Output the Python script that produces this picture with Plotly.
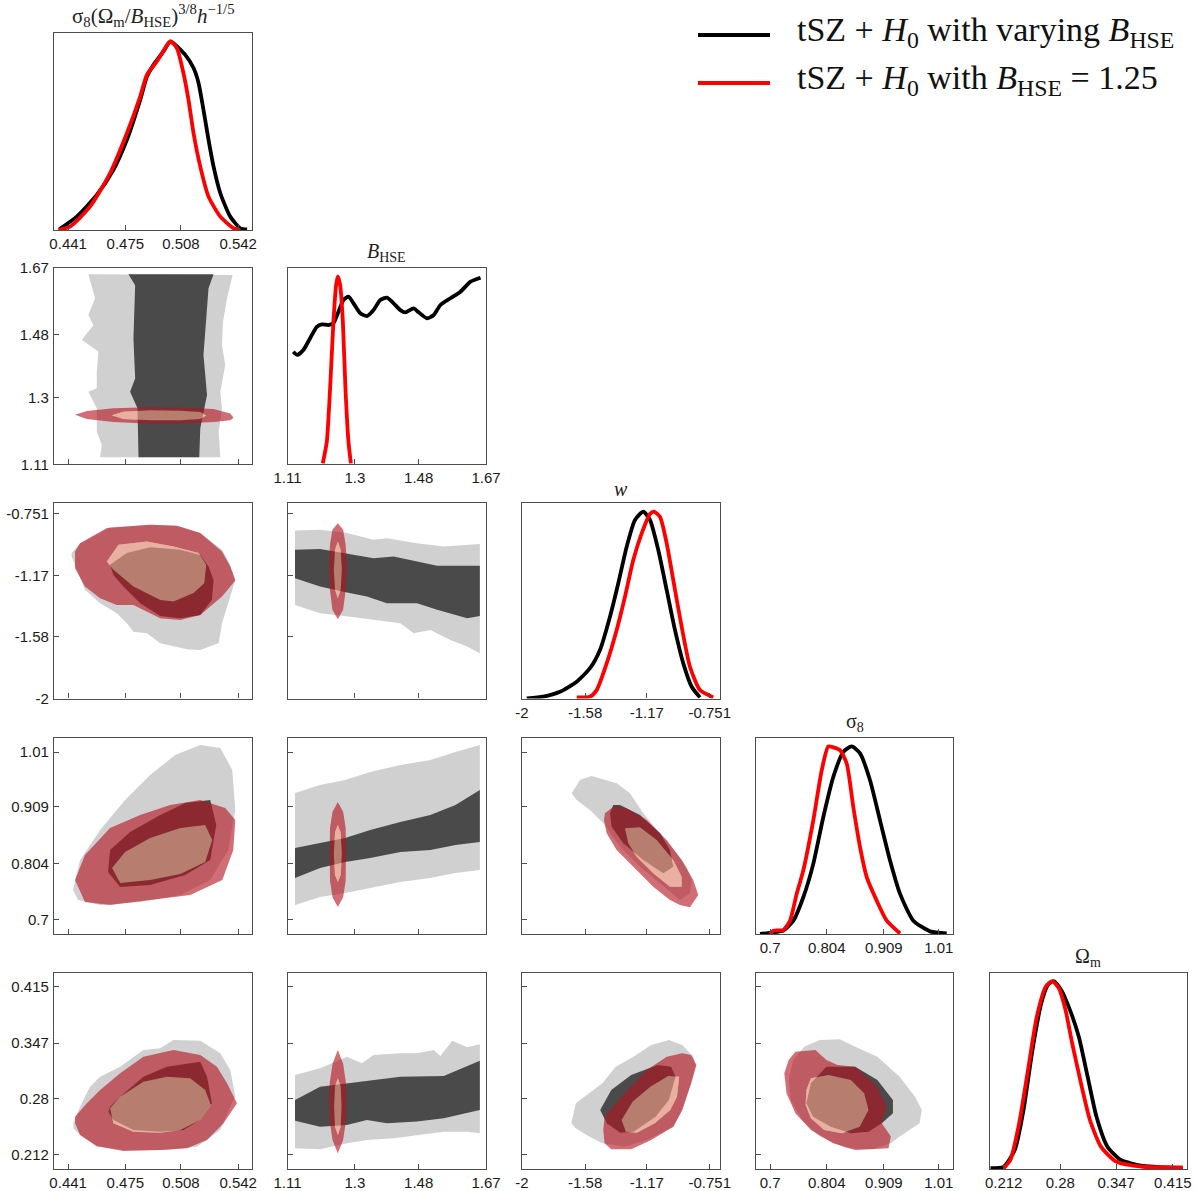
import plotly.graph_objects as go

# ---------------- axis ranges / ticks (data units) ----------------
PARAM_RANGE = [[0.4326, 0.5504], [1.11, 1.67], [-2.0, -0.683], [0.674, 1.036], [0.195, 0.432]]
TICK_VALS = [[0.441, 0.475, 0.508, 0.542], [1.11, 1.3, 1.48, 1.67],
             [-2, -1.58, -1.17, -0.751], [0.7, 0.804, 0.909, 1.01], [0.212, 0.28, 0.347, 0.415]]
TICK_TEXT = [["0.441", "0.475", "0.508", "0.542"], ["1.11", "1.3", "1.48", "1.67"],
             ["-2", "-1.58", "-1.17", "-0.751"], ["0.7", "0.804", "0.909", "1.01"],
             ["0.212", "0.28", "0.347", "0.415"]]
PARAM_LABELS = [
    "σ<sub>8</sub>(Ω<sub>m</sub>/<i>B</i><sub>HSE</sub>)<sup>3/8</sup><i>h</i><sup>−1/5</sup>",
    "<i>B</i><sub>HSE</sub>",
    "<i>w</i>",
    "σ<sub>8</sub>",
    "Ω<sub>m</sub>",
]
SERIES_NAMES = ["tSZ + <i>H</i><sub>0</sub> with varying <i>B</i><sub>HSE</sub>",
                "tSZ + <i>H</i><sub>0</sub> with <i>B</i><sub>HSE</sub> = 1.25"]

# ---------------- 1D marginals (normalised to peak = 1) ----------------
D0_X_BLACK = [0.4358, 0.4461, 0.4580, 0.4679, 0.4759, 0.4838, 0.4878, 0.4917, 0.4976, 0.5016, 0.5036,
              0.5106, 0.5155, 0.5185, 0.5214, 0.5244, 0.5274, 0.5314, 0.5373, 0.5433, 0.5473]
D0_Y_BLACK = [0.004, 0.071, 0.186, 0.319, 0.478, 0.690, 0.814, 0.876, 0.947, 1.0, 0.991,
              0.929, 0.859, 0.779, 0.637, 0.478, 0.336, 0.195, 0.071, 0.009, 0.003]
D0_X_RED = [0.4352, 0.4421, 0.4540, 0.4659, 0.4759, 0.4838, 0.4878, 0.4937, 0.5006, 0.5020, 0.5056,
            0.5095, 0.5125, 0.5155, 0.5195, 0.5244, 0.5314, 0.5393, 0.5433]
D0_Y_RED = [0.0, 0.018, 0.124, 0.301, 0.513, 0.708, 0.823, 0.894, 0.991, 1.0, 0.965,
            0.832, 0.690, 0.513, 0.336, 0.177, 0.071, 0.009, 0.0]

D1_X_BLACK = [1.1264, 1.1377, 1.1547, 1.1737, 1.1926, 1.2067, 1.2254, 1.2396, 1.2537, 1.2679, 1.2820,
              1.2962, 1.3151, 1.3341, 1.3528, 1.3717, 1.3906, 1.4093, 1.4283, 1.4424, 1.4659, 1.4800,
              1.5038, 1.5225, 1.5414, 1.5697, 1.5980, 1.6263, 1.6546]
D1_Y_BLACK = [0.599, 0.582, 0.608, 0.671, 0.732, 0.745, 0.741, 0.751, 0.812, 0.875, 0.892,
              0.857, 0.804, 0.789, 0.821, 0.875, 0.887, 0.857, 0.821, 0.809, 0.830, 0.809,
              0.777, 0.795, 0.848, 0.884, 0.919, 0.972, 0.993]
D1_X_RED = [1.2096, 1.2209, 1.2302, 1.2396, 1.2472, 1.2520, 1.2585, 1.2662, 1.2735, 1.2820, 1.2888]
D1_Y_RED = [0.005, 0.12, 0.405, 0.759, 0.954, 1.0, 0.954, 0.759, 0.405, 0.12, 0.005]

D2_X_BLACK = [-1.9687, -1.8584, -1.7473, -1.6362, -1.5478, -1.4813, -1.4148, -1.3596, -1.3037,
              -1.2486, -1.1933, -1.1488, -1.0936, -1.0378, -0.9826, -0.9273, -0.8715, -0.8163]
D2_Y_BLACK = [0.001, 0.010, 0.036, 0.090, 0.162, 0.260, 0.438, 0.617, 0.813,
              0.956, 1.0, 0.956, 0.795, 0.581, 0.367, 0.188, 0.063, 0.006]
D2_X_RED = [-1.6362, -1.5478, -1.5033, -1.4368, -1.3703, -1.3151, -1.2599, -1.2040, -1.1488,
            -1.1222, -1.0823, -1.0378, -0.9939, -0.9380, -0.8828, -0.8163, -0.7279]
D2_Y_RED = [0.006, 0.010, 0.045, 0.188, 0.367, 0.545, 0.741, 0.884, 0.988,
            1.0, 0.973, 0.831, 0.634, 0.384, 0.170, 0.045, 0.006]

D3_X_BLACK = [0.6814, 0.7058, 0.7242, 0.7426, 0.7609, 0.7793, 0.7977, 0.8161, 0.8345, 0.8499,
              0.8652, 0.8835, 0.9019, 0.9203, 0.9387, 0.9631, 0.9938, 1.0245]
D3_Y_BLACK = [0.0, 0.009, 0.018, 0.071, 0.196, 0.374, 0.624, 0.838, 0.971, 1.0,
              0.963, 0.820, 0.606, 0.392, 0.214, 0.071, 0.014, 0.003]
D3_X_RED = [0.6997, 0.7058, 0.7242, 0.7365, 0.7488, 0.7609, 0.7793, 0.7948, 0.8069, 0.8161,
            0.8284, 0.8407, 0.8528, 0.8652, 0.8775, 0.8958, 0.9142, 0.9387]
D3_Y_RED = [0.0, 0.018, 0.021, 0.071, 0.214, 0.339, 0.606, 0.873, 1.0, 0.995,
            0.980, 0.909, 0.677, 0.463, 0.303, 0.178, 0.071, 0.003]

D4_X_BLACK = [0.1962, 0.2121, 0.2253, 0.2358, 0.2465, 0.2571, 0.2651, 0.2719, 0.2810, 0.2915,
              0.3021, 0.3127, 0.3234, 0.3365, 0.3525, 0.3790, 0.4055, 0.4268]
D4_Y_BLACK = [0.004, 0.012, 0.101, 0.314, 0.633, 0.882, 0.980, 1.0, 0.953, 0.847,
              0.705, 0.493, 0.278, 0.119, 0.048, 0.016, 0.009, 0.004]
D4_X_RED = [0.2121, 0.2200, 0.2306, 0.2412, 0.2518, 0.2625, 0.2703, 0.2783, 0.2862, 0.2942,
            0.3048, 0.3155, 0.3287, 0.3472, 0.3790, 0.4268]
D4_Y_RED = [0.004, 0.048, 0.243, 0.527, 0.811, 0.970, 1.0, 0.962, 0.847, 0.669,
            0.456, 0.261, 0.119, 0.039, 0.012, 0.009]

# ---------------- 2D credible-region outlines (x, y) in data units ----------------
# panel (row 1, col 0): x = combo, y = B_HSE
G10_LIGHT = [(0.4530, 1.652), (0.4570, 1.584), (0.4530, 1.536), (0.4560, 1.507), (0.4491, 1.465), (0.4590, 1.431),
             (0.4580, 1.374), (0.4580, 1.327), (0.4530, 1.317), (0.4580, 1.270), (0.4580, 1.203), (0.4610, 1.165),
             (0.4600, 1.130), (0.5314, 1.130), (0.5304, 1.203), (0.5324, 1.270), (0.5314, 1.317), (0.5343, 1.393),
             (0.5324, 1.450), (0.5330, 1.517), (0.5354, 1.584), (0.5387, 1.650)]
G10_DARK = [(0.4768, 1.652), (0.4808, 1.621), (0.4798, 1.469), (0.4808, 1.355), (0.4778, 1.317), (0.4822, 1.270),
            (0.4828, 1.130), (0.5189, 1.130), (0.5195, 1.213), (0.5235, 1.308), (0.5214, 1.422), (0.5244, 1.612),
            (0.5274, 1.652)]
R10_OUTER = [(0.4451, 1.251), (0.4521, 1.262), (0.4679, 1.270), (0.4897, 1.273), (0.5116, 1.271), (0.5274, 1.268),
             (0.5373, 1.255), (0.5393, 1.243), (0.5373, 1.236), (0.5274, 1.231), (0.5116, 1.227), (0.4897, 1.226),
             (0.4679, 1.231), (0.4521, 1.239)]
R10_INNER = [(0.4669, 1.250), (0.4738, 1.260), (0.4897, 1.264), (0.5076, 1.263), (0.5195, 1.259), (0.5230, 1.249),
             (0.5195, 1.239), (0.5076, 1.236), (0.4897, 1.236), (0.4738, 1.239)]

# panel (2,0): x = combo, y = w
G20_LIGHT = [(0.4431, -1.019), (0.4481, -0.952), (0.4600, -0.884), (0.4659, -0.844), (0.4897, -0.828),
             (0.5056, -0.835), (0.5195, -0.884), (0.5324, -0.997), (0.5373, -1.098), (0.5403, -1.200),
             (0.5383, -1.289), (0.5354, -1.380), (0.5324, -1.492), (0.5304, -1.627), (0.5274, -1.639),
             (0.5195, -1.672), (0.5116, -1.668), (0.4957, -1.627), (0.4878, -1.560), (0.4798, -1.549),
             (0.4759, -1.492), (0.4699, -1.425), (0.4600, -1.357), (0.4510, -1.267), (0.4471, -1.154),
             (0.4431, -1.042)]
G20_DARK = [(0.4659, -1.098), (0.4759, -1.019), (0.4897, -0.979), (0.5076, -0.997), (0.5195, -1.031),
            (0.5244, -1.110), (0.5274, -1.200), (0.5264, -1.335), (0.5195, -1.436), (0.5076, -1.458),
            (0.4957, -1.443), (0.4838, -1.357), (0.4738, -1.245), (0.4679, -1.166)]
R20_OUTER = [(0.4451, -1.009), (0.4481, -0.952), (0.4640, -0.850), (0.4897, -0.828), (0.5056, -0.835),
             (0.5195, -0.884), (0.5324, -1.009), (0.5373, -1.110), (0.5403, -1.204), (0.5324, -1.312),
             (0.5195, -1.436), (0.5076, -1.470), (0.4957, -1.458), (0.4798, -1.369), (0.4699, -1.369),
             (0.4600, -1.323), (0.4510, -1.245), (0.4451, -1.121)]
R20_INNER = [(0.4640, -1.076), (0.4709, -0.963), (0.4878, -0.941), (0.5036, -0.975), (0.5185, -1.019),
             (0.5230, -1.098), (0.5219, -1.222), (0.5155, -1.289), (0.5036, -1.346), (0.4957, -1.335),
             (0.4798, -1.245), (0.4679, -1.132)]

# panel (2,1): x = B_HSE, y = w
G21_LIGHT = [(1.1312, -0.867), (1.2019, -0.862), (1.2775, -0.884), (1.3527, -0.929), (1.3906, -0.918),
             (1.4755, -0.952), (1.5508, -0.975), (1.6526, -0.957), (1.6526, -1.695), (1.6170, -1.650),
             (1.5697, -1.605), (1.5131, -1.537), (1.4659, -1.560), (1.4283, -1.492), (1.3623, -1.470),
             (1.2868, -1.448), (1.2019, -1.425), (1.1312, -1.369)]
G21_DARK = [(1.1312, -0.997), (1.2019, -0.992), (1.2679, -1.019), (1.3527, -1.053), (1.4093, -1.042),
            (1.4755, -1.076), (1.5321, -1.105), (1.6526, -1.105), (1.6526, -1.443), (1.6170, -1.458),
            (1.5321, -1.402), (1.4755, -1.357), (1.3906, -1.357), (1.3341, -1.312), (1.2679, -1.279),
            (1.2019, -1.245), (1.1312, -1.188)]
R21_OUTER = [(1.2520, -0.817), (1.2670, -0.862), (1.2741, -0.963), (1.2775, -1.098), (1.2741, -1.267),
             (1.2670, -1.402), (1.2520, -1.465), (1.2367, -1.402), (1.2297, -1.267), (1.2274, -1.098),
             (1.2297, -0.963), (1.2367, -0.862)]
R21_INNER = [(1.2520, -0.941), (1.2599, -0.997), (1.2633, -1.132), (1.2599, -1.267), (1.2520, -1.323),
             (1.2441, -1.267), (1.2407, -1.132), (1.2441, -0.997)]

# panel (3,0): x = combo, y = sigma8
G30_LIGHT = [(0.4439, 0.7553), (0.4481, 0.8107), (0.4600, 0.8661), (0.4748, 0.9215), (0.4897, 0.9677),
             (0.5046, 1.0046), (0.5195, 1.0231), (0.5314, 1.0175), (0.5385, 0.9769), (0.5403, 0.9030),
             (0.5361, 0.8291), (0.5254, 0.7737), (0.5076, 0.7460), (0.4838, 0.7331), (0.4600, 0.7276),
             (0.4469, 0.7368)]
G30_DARK = [(0.4659, 0.8291), (0.4778, 0.8624), (0.4957, 0.8938), (0.5106, 0.9159), (0.5254, 0.9215),
            (0.5290, 0.8753), (0.5254, 0.8107), (0.5106, 0.7830), (0.4897, 0.7645), (0.4719, 0.7608),
            (0.4647, 0.7885)]
R30_OUTER = [(0.4451, 0.7737), (0.4510, 0.8199), (0.4659, 0.8698), (0.4838, 0.8938), (0.5016, 0.9123),
             (0.5195, 0.9215), (0.5343, 0.9067), (0.5403, 0.8845), (0.5391, 0.8291), (0.5326, 0.7737),
             (0.5135, 0.7460), (0.4897, 0.7368), (0.4659, 0.7276), (0.4510, 0.7331)]
R30_INNER = [(0.4671, 0.7959), (0.4748, 0.8254), (0.4897, 0.8513), (0.5076, 0.8698), (0.5224, 0.8753),
             (0.5266, 0.8476), (0.5224, 0.8070), (0.5076, 0.7848), (0.4897, 0.7737), (0.4719, 0.7682)]

# panel (3,1): x = B_HSE, y = sigma8
G31_LIGHT = [(1.1312, 0.9344), (1.2019, 0.9492), (1.2727, 0.9584), (1.3434, 0.9732), (1.4283, 0.9861),
             (1.5131, 0.9954), (1.5839, 1.0101), (1.6526, 1.0231), (1.6526, 0.7922), (1.5839, 0.7867),
             (1.5131, 0.7774), (1.4283, 0.7700), (1.3434, 0.7589), (1.2727, 0.7497), (1.2019, 0.7423),
             (1.1312, 0.7276)]
G31_DARK = [(1.1312, 0.8328), (1.2019, 0.8421), (1.2727, 0.8513), (1.3434, 0.8661), (1.4283, 0.8809),
            (1.5131, 0.8938), (1.5839, 0.9123), (1.6526, 0.9400), (1.6526, 0.8439), (1.5839, 0.8384),
            (1.5131, 0.8291), (1.4283, 0.8254), (1.3434, 0.8144), (1.2727, 0.8070), (1.2019, 0.7959),
            (1.1312, 0.7774)]
R31_OUTER = [(1.2520, 0.9178), (1.2670, 0.900), (1.2741, 0.870), (1.2750, 0.8208), (1.2741, 0.772),
             (1.2670, 0.742), (1.2520, 0.7239), (1.2370, 0.742), (1.2299, 0.772), (1.2290, 0.8208),
             (1.2299, 0.870), (1.2370, 0.900)]
R31_INNER = [(1.2520, 0.8753), (1.2600, 0.862), (1.2633, 0.8227), (1.2600, 0.783), (1.2520, 0.7700),
             (1.2440, 0.783), (1.2407, 0.8227), (1.2440, 0.862)]

# panel (3,2): x = w, y = sigma8
G32_LIGHT = [(-1.6695, 0.9339), (-1.6143, 0.9584), (-1.5365, 0.9658), (-1.3702, 0.9523), (-1.2818, 0.9339),
             (-1.1934, 0.8969), (-1.0823, 0.8600), (-0.9712, 0.8230), (-0.9047, 0.7983), (-0.8715, 0.7737),
             (-0.8828, 0.7492), (-0.9493, 0.7368), (-1.0823, 0.7676), (-1.2153, 0.7983), (-1.3483, 0.8352),
             (-1.4594, 0.8784), (-1.5478, 0.9030), (-1.6362, 0.9215)]
G32_DARK = [(-1.3929, 0.9123), (-1.3483, 0.9123), (-1.2153, 0.8938), (-1.0823, 0.8600), (-1.0158, 0.8291),
            (-0.9939, 0.7983), (-1.0603, 0.7861), (-1.1934, 0.8107), (-1.3264, 0.8415), (-1.4035, 0.8722),
            (-1.4148, 0.8969)]
R32_OUTER = [(-1.4481, 0.8969), (-1.3929, 0.9091), (-1.3037, 0.9062), (-1.1707, 0.8845), (-1.0378, 0.8476),
             (-0.9380, 0.8107), (-0.8609, 0.7737), (-0.8276, 0.7460), (-0.8828, 0.7233), (-0.9493, 0.7276),
             (-1.0158, 0.7368), (-1.1269, 0.7614), (-1.2599, 0.7983), (-1.3702, 0.8291), (-1.4368, 0.8600),
             (-1.4547, 0.8845)]
R32_INNER = [(-1.3151, 0.8692), (-1.2153, 0.8711), (-1.1043, 0.8476), (-0.9939, 0.8107), (-0.9380, 0.7798),
             (-0.9380, 0.7614), (-1.0158, 0.7614), (-1.1269, 0.7861), (-1.2372, 0.8168), (-1.2931, 0.8415)]

# panel (4,0): x = combo, y = Omega_m
G40_LIGHT = [(0.4441, 0.2502), (0.4481, 0.2703), (0.4540, 0.2944), (0.4600, 0.3065), (0.4719, 0.3185),
             (0.4857, 0.3387), (0.4957, 0.3408), (0.5036, 0.3508), (0.5195, 0.3499), (0.5314, 0.3347),
             (0.5373, 0.3146), (0.5403, 0.2823), (0.5373, 0.2703), (0.5314, 0.2421), (0.5175, 0.2220),
             (0.4997, 0.2180), (0.4738, 0.2180), (0.4580, 0.2220), (0.4481, 0.2361), (0.4441, 0.2442)]
G40_DARK = [(0.4659, 0.2703), (0.4719, 0.2823), (0.4857, 0.3065), (0.4997, 0.3185), (0.5195, 0.3246),
            (0.5235, 0.3065), (0.5264, 0.2744), (0.5195, 0.2542), (0.5095, 0.2421), (0.4957, 0.2401),
            (0.4798, 0.2421), (0.4679, 0.2542), (0.4649, 0.2642)]
R40_OUTER = [(0.4451, 0.2582), (0.4521, 0.2744), (0.4600, 0.2904), (0.4719, 0.3106), (0.4857, 0.3306),
             (0.5036, 0.3387), (0.5195, 0.3327), (0.5294, 0.3185), (0.5354, 0.2985), (0.5413, 0.2744),
             (0.5333, 0.2502), (0.5235, 0.2301), (0.5116, 0.2200), (0.4957, 0.2180), (0.4738, 0.2168),
             (0.4580, 0.2228), (0.4481, 0.2361), (0.4451, 0.2502)]
R40_INNER = [(0.4659, 0.2683), (0.4719, 0.2823), (0.4857, 0.3004), (0.4997, 0.3065), (0.5135, 0.3045),
             (0.5224, 0.2904), (0.5258, 0.2723), (0.5195, 0.2542), (0.5076, 0.2421), (0.4957, 0.2389),
             (0.4798, 0.2401), (0.4679, 0.2502)]

# panel (4,1): x = B_HSE, y = Omega_m
G41_LIGHT = [(1.1312, 0.3085), (1.2019, 0.3166), (1.2775, 0.3306), (1.3199, 0.3226), (1.3527, 0.3327),
             (1.4283, 0.3347), (1.4755, 0.3347), (1.5225, 0.3387), (1.5414, 0.3315), (1.5745, 0.3499),
             (1.6170, 0.3420), (1.6526, 0.3456), (1.6526, 0.2382), (1.6170, 0.2401), (1.5508, 0.2401),
             (1.4755, 0.2361), (1.4093, 0.2321), (1.3341, 0.2301), (1.2775, 0.2261), (1.2019, 0.2188),
             (1.1312, 0.2200)]
G41_DARK = [(1.1312, 0.2783), (1.2019, 0.2944), (1.2775, 0.2985), (1.3527, 0.3025), (1.4283, 0.3065),
            (1.5508, 0.3073), (1.6526, 0.3258), (1.6526, 0.2663), (1.6170, 0.2623), (1.5508, 0.2563),
            (1.4755, 0.2522), (1.3906, 0.2502), (1.3341, 0.2542), (1.2775, 0.2482), (1.2019, 0.2461),
            (1.1312, 0.2534)]
R41_OUTER = [(1.2520, 0.3387), (1.2670, 0.322), (1.2745, 0.300), (1.2766, 0.2763), (1.2745, 0.252),
             (1.2670, 0.230), (1.2520, 0.2140), (1.2370, 0.230), (1.2295, 0.252), (1.2274, 0.2763),
             (1.2295, 0.300), (1.2370, 0.322)]
R41_INNER = [(1.2520, 0.3045), (1.2600, 0.295), (1.2625, 0.2703), (1.2600, 0.246), (1.2520, 0.2361),
             (1.2440, 0.246), (1.2415, 0.2703), (1.2440, 0.295)]

# panel (4,2): x = w, y = Omega_m
G42_LIGHT = [(-1.6715, 0.2502), (-1.6422, 0.2744), (-1.4653, 0.2985), (-1.3769, 0.3185), (-1.2585, 0.3306),
             (-1.1408, 0.3447), (-1.0225, 0.3508), (-0.9340, 0.3447), (-0.8602, 0.3306), (-0.8456, 0.3206),
             (-0.8748, 0.2985), (-0.9340, 0.2663), (-0.9932, 0.2461), (-1.1701, 0.2301), (-1.3177, 0.2220),
             (-1.4653, 0.2261), (-1.5538, 0.2341), (-1.6422, 0.2442)]
G42_DARK = [(-1.4800, 0.2663), (-1.4062, 0.2904), (-1.2738, 0.3085), (-1.0969, 0.3206), (-1.0085, 0.3185),
            (-0.9786, 0.3065), (-1.0231, 0.2783), (-1.1116, 0.2582), (-1.2585, 0.2401), (-1.3470, 0.2389),
            (-1.4354, 0.2502)]
R42_OUTER = [(-1.4507, 0.2582), (-1.3177, 0.2864), (-1.1701, 0.3146), (-1.0371, 0.3306), (-0.9340, 0.3347),
             (-0.8748, 0.3327), (-0.8396, 0.3206), (-0.8748, 0.2985), (-0.9340, 0.2663), (-0.9932, 0.2461),
             (-1.1408, 0.2301), (-1.2738, 0.2188), (-1.4062, 0.2188), (-1.4507, 0.2261), (-1.4594, 0.2421)]
R42_INNER = [(-1.3376, 0.2542), (-1.2645, 0.2763), (-1.1461, 0.2944), (-1.0284, 0.3073), (-0.9546, 0.3065),
             (-0.9693, 0.2823), (-1.0138, 0.2663), (-1.1169, 0.2502), (-1.2353, 0.2389), (-1.3091, 0.2401)]

# panel (4,3): x = sigma8, y = Omega_m
G43_LIGHT = [(0.7626, 0.3427), (0.7911, 0.3508), (0.8278, 0.3516), (0.8563, 0.3427), (0.8971, 0.3306),
             (0.9379, 0.3065), (0.9664, 0.2823), (0.9786, 0.2663), (0.9745, 0.2502), (0.9379, 0.2341),
             (0.9218, 0.2261), (0.8890, 0.2188), (0.8402, 0.2200), (0.7911, 0.2341), (0.7585, 0.2542),
             (0.7381, 0.2783), (0.7341, 0.3025), (0.7422, 0.3266)]
G43_DARK = [(0.8034, 0.3185), (0.8563, 0.3185), (0.8971, 0.3025), (0.9256, 0.2783), (0.9256, 0.2623),
            (0.9052, 0.2502), (0.8808, 0.2401), (0.8482, 0.2382), (0.8115, 0.2461), (0.7790, 0.2582),
            (0.7666, 0.2744), (0.7749, 0.2985)]
R43_OUTER = [(0.7341, 0.3266), (0.7464, 0.3366), (0.7830, 0.3387), (0.8034, 0.3266), (0.8238, 0.3206),
             (0.8563, 0.3185), (0.8971, 0.2944), (0.9135, 0.2703), (0.9052, 0.2502), (0.9218, 0.2341),
             (0.9175, 0.2200), (0.8563, 0.2180), (0.8157, 0.2261), (0.7749, 0.2421), (0.7464, 0.2623),
             (0.7301, 0.2864), (0.7260, 0.3106)]
R43_INNER = [(0.7666, 0.2904), (0.7749, 0.3045), (0.8074, 0.3085), (0.8482, 0.3025), (0.8727, 0.2864),
             (0.8808, 0.2663), (0.8646, 0.2461), (0.8321, 0.2382), (0.7993, 0.2421), (0.7749, 0.2563),
             (0.7652, 0.2723)]

# ---------------- assemble lookup tables from the arrays above ----------------
DIAG = {
    0: (D0_X_BLACK, D0_Y_BLACK, D0_X_RED, D0_Y_RED),
    1: (D1_X_BLACK, D1_Y_BLACK, D1_X_RED, D1_Y_RED),
    2: (D2_X_BLACK, D2_Y_BLACK, D2_X_RED, D2_Y_RED),
    3: (D3_X_BLACK, D3_Y_BLACK, D3_X_RED, D3_Y_RED),
    4: (D4_X_BLACK, D4_Y_BLACK, D4_X_RED, D4_Y_RED),
}
CONTOURS = {
    (1, 0): (G10_LIGHT, G10_DARK, R10_OUTER, R10_INNER),
    (2, 0): (G20_LIGHT, G20_DARK, R20_OUTER, R20_INNER),
    (2, 1): (G21_LIGHT, G21_DARK, R21_OUTER, R21_INNER),
    (3, 0): (G30_LIGHT, G30_DARK, R30_OUTER, R30_INNER),
    (3, 1): (G31_LIGHT, G31_DARK, R31_OUTER, R31_INNER),
    (3, 2): (G32_LIGHT, G32_DARK, R32_OUTER, R32_INNER),
    (4, 0): (G40_LIGHT, G40_DARK, R40_OUTER, R40_INNER),
    (4, 1): (G41_LIGHT, G41_DARK, R41_OUTER, R41_INNER),
    (4, 2): (G42_LIGHT, G42_DARK, R42_OUTER, R42_INNER),
    (4, 3): (G43_LIGHT, G43_DARK, R43_OUTER, R43_INNER),
}

# ---------------- styling / layout ----------------
W, H = 1196, 1191
COL_PX = [(54, 252.3), (287.5, 486), (522, 720), (756, 953), (989.5, 1187)]
ROW_PX = [(33, 230), (268, 464.3), (503.3, 698.5), (738, 934), (972.7, 1169)]
GREY_LIGHT = "#d0d0d0"
GREY_DARK = "#4a4a4a"
RED_OUTER = "rgba(181,19,32,0.62)"
RED_INNER = "rgba(247,156,131,0.63)"
FRAME = "#4d4d4d"
TICKFONT = dict(family="Liberation Sans, Arial, sans-serif", size=15, color="#1a1a1a")
SERIF = "Liberation Serif, DejaVu Serif, serif"
DIAG_YMAX = 1.045
TITLE_SIZES = [21, 20, 20, 20, 20]


def signed_area(pts):
    a = 0.0
    for k in range(len(pts)):
        x1, y1 = pts[k]
        x2, y2 = pts[(k + 1) % len(pts)]
        a += x1 * y2 - x2 * y1
    return a / 2.0


def ring_xy(pts, ccw=True):
    p = list(pts)
    if (signed_area(p) > 0) != ccw:
        p = p[::-1]
    p = p + [p[0]]
    return [q[0] for q in p], [q[1] for q in p]


def fill_trace(outer, color, xr, yr, hole=None):
    xs, ys = ring_xy(outer, True)
    if hole is not None:
        hx, hy = ring_xy(hole, False)
        xs = xs + [None] + hx
        ys = ys + [None] + hy
    return go.Scatter(x=xs, y=ys, mode="lines", fill="toself", fillcolor=color,
                      line=dict(width=0, color=color), hoverinfo="skip", showlegend=False,
                      xaxis=xr, yaxis=yr)


fig = go.Figure()
layout = dict(width=W, height=H, margin=dict(l=0, r=0, t=0, b=0, pad=0), autosize=False,
              paper_bgcolor="white", plot_bgcolor="white", showlegend=False)
annotations = []
shapes = []

k = 0
for i in range(5):
    for j in range(i + 1):
        k += 1
        xname = "xaxis" if k == 1 else f"xaxis{k}"
        yname = "yaxis" if k == 1 else f"yaxis{k}"
        xr = "x" if k == 1 else f"x{k}"
        yr = "y" if k == 1 else f"y{k}"
        x0, x1 = COL_PX[j]
        y0, y1 = ROW_PX[i]
        xdom = [x0 / W, x1 / W]
        ydom = [1 - y1 / H, 1 - y0 / H]
        common = dict(showgrid=False, zeroline=False, showline=True, linecolor=FRAME, linewidth=1.3,
                      mirror=True, ticks="inside", ticklen=5, tickwidth=1.1, tickcolor=FRAME,
                      tickfont=TICKFONT, fixedrange=True, automargin=False)
        xa = dict(common, domain=xdom, anchor=yr, range=PARAM_RANGE[j], tickmode="array",
                  tickvals=TICK_VALS[j], ticktext=TICK_TEXT[j], ticklabelstandoff=0)
        if i == j:
            xa["showticklabels"] = True
            ya = dict(common, domain=ydom, anchor=xr, range=[0, DIAG_YMAX], ticks="",
                      showticklabels=False)
            xb, yb, xred, yred = DIAG[i]
            fig.add_trace(go.Scatter(x=xb, y=yb, mode="lines", line=dict(color="black", width=3.8,
                                     shape="spline", smoothing=0.6), hoverinfo="skip",
                                     showlegend=False, xaxis=xr, yaxis=yr))
            fig.add_trace(go.Scatter(x=xred, y=yred, mode="lines", line=dict(color="red", width=3.8,
                                     shape="spline", smoothing=0.6), hoverinfo="skip",
                                     showlegend=False, xaxis=xr, yaxis=yr))
            annotations.append(dict(text=PARAM_LABELS[i], xref=f"{xr} domain", yref=f"{yr} domain",
                                    x=0.5, y=1.0, xanchor="center", yanchor="bottom", yshift=1,
                                    showarrow=False,
                                    font=dict(family=SERIF, size=TITLE_SIZES[i], color="#222222")))
        else:
            xa["showticklabels"] = (i == 4)
            ya = dict(common, domain=ydom, anchor=xr, range=PARAM_RANGE[i], tickmode="array",
                      tickvals=TICK_VALS[i], ticktext=TICK_TEXT[i], showticklabels=(j == 0),
                      ticklabelstandoff=1)
            light, dark, rout, rin = CONTOURS[(i, j)]
            fig.add_trace(fill_trace(light, GREY_LIGHT, xr, yr))
            fig.add_trace(fill_trace(dark, GREY_DARK, xr, yr))
            fig.add_trace(fill_trace(rout, RED_OUTER, xr, yr, hole=rin))
            fig.add_trace(fill_trace(rin, RED_INNER, xr, yr))
        layout[xname] = xa
        layout[yname] = ya

# legend (drawn manually to match the reference layout)
LEGEND_COLORS = ["black", "red"]
LEGEND_ROWS_PX = [35, 83]
for name, col, ypx in zip(SERIES_NAMES, LEGEND_COLORS, LEGEND_ROWS_PX):
    shapes.append(dict(type="line", xref="paper", yref="paper", x0=698 / W, x1=770 / W,
                       y0=1 - ypx / H, y1=1 - ypx / H, line=dict(color=col, width=4)))
    annotations.append(dict(text=name, xref="paper", yref="paper", x=795 / W, y=1 - (ypx - 3) / H,
                            xanchor="left", yanchor="middle", showarrow=False,
                            font=dict(family=SERIF, size=34, color="#111111")))

layout["annotations"] = annotations
layout["shapes"] = shapes
fig.update_layout(**layout)

fig.write_html("out.html", config={"displayModeBar": False},
               post_script="document.body.style.margin='0';document.body.style.overflow='hidden';")
